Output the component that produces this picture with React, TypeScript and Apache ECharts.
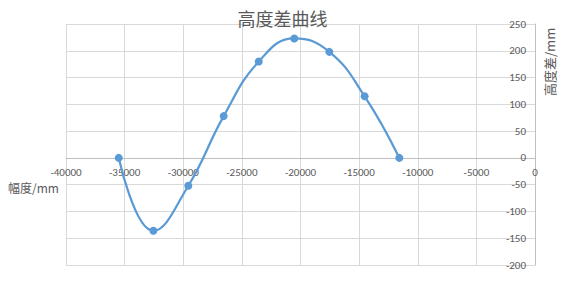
import React, { useEffect, useRef } from "react";
import * as echarts from "echarts";

const amplitude = [-35500, -32550, -29570, -26550, -23560, -20530, -17540, -14530, -11570];
const heightDiff = [0, -136, -52, 78, 180, 223, 198, 115, 0];

const titleText = "高度差曲线";
const xName = "幅度/mm";
const yName = "高度差/mm";

export default function App() {
  const ref = useRef<HTMLDivElement>(null);
  useEffect(() => {
    if (!ref.current) return;
    const chart = echarts.init(ref.current, null, { renderer: "svg" });
    const labelColor = "#595959";
    const font = "Calibri, 'Liberation Sans', 'Noto Sans CJK SC', sans-serif";
    const gridTop = 24;
    const gridBottom = 27;
    const plotH = 292 - gridTop - gridBottom;
    const yMin = -200;
    const yMax = 250;
    const zeroOffset = -(plotH * (0 - yMin)) / (yMax - yMin);
    chart.setOption({
      animation: false,
      backgroundColor: "#ffffff",
      title: {
        text: titleText,
        left: "center",
        top: 4,
        textStyle: { color: labelColor, fontSize: 18, fontWeight: "normal", fontFamily: "'Noto Sans CJK SC', sans-serif" },
      },
      grid: { left: 66, right: 30, top: gridTop, bottom: gridBottom },
      xAxis: [
        {
          type: "value",
          min: -40000,
          max: 0,
          interval: 5000,
          axisLine: { show: false },
          axisTick: { show: false },
          axisLabel: { show: false },
          splitLine: { show: true, lineStyle: { color: "#d9d9d9", width: 1 } },
        },
        {
          type: "value",
          position: "bottom",
          offset: zeroOffset,
          min: -40000,
          max: 0,
          interval: 5000,
          axisLine: { show: true, onZero: false, lineStyle: { color: "#bfbfbf", width: 1 } },
          axisTick: { show: false },
          axisLabel: { color: labelColor, fontSize: 11, margin: 9, fontFamily: font, formatter: (v: number) => String(v) },
          splitLine: { show: false },
        },
      ],
      yAxis: {
        type: "value",
        position: "right",
        min: yMin,
        max: yMax,
        interval: 50,
        axisLine: { show: true, onZero: false, lineStyle: { color: "#bfbfbf", width: 1 } },
        axisTick: { show: false },
        axisLabel: { inside: true, color: labelColor, fontSize: 11, margin: 9, fontFamily: font, formatter: (v: number) => String(v) },
        splitLine: { show: true, lineStyle: { color: "#d9d9d9", width: 1 } },
      },
      graphic: [
        {
          type: "text",
          left: 8,
          top: 181,
          style: { text: xName, fill: labelColor, fontSize: 12, fontFamily: "'Noto Sans CJK SC', sans-serif" },
        },
        {
          type: "text",
          x: 543,
          y: 96,
          rotation: Math.PI / 2,
          style: { text: yName, fill: labelColor, fontSize: 13, fontFamily: "'Noto Sans CJK SC', sans-serif" },
        },
      ],
      series: [
        {
          type: "line",
          xAxisIndex: 0,
          data: amplitude.map((x, i) => [x, heightDiff[i]]),
          smooth: 0.45,
          symbol: "circle",
          symbolSize: 8,
          lineStyle: { color: "#5b9bd5", width: 2.25 },
          itemStyle: { color: "#5b9bd5" },
        },
      ],
    });
    return () => chart.dispose();
  }, []);
  return <div ref={ref} style={{ position: "fixed", left: 0, top: 0, width: 565, height: 292 }} />;
}
